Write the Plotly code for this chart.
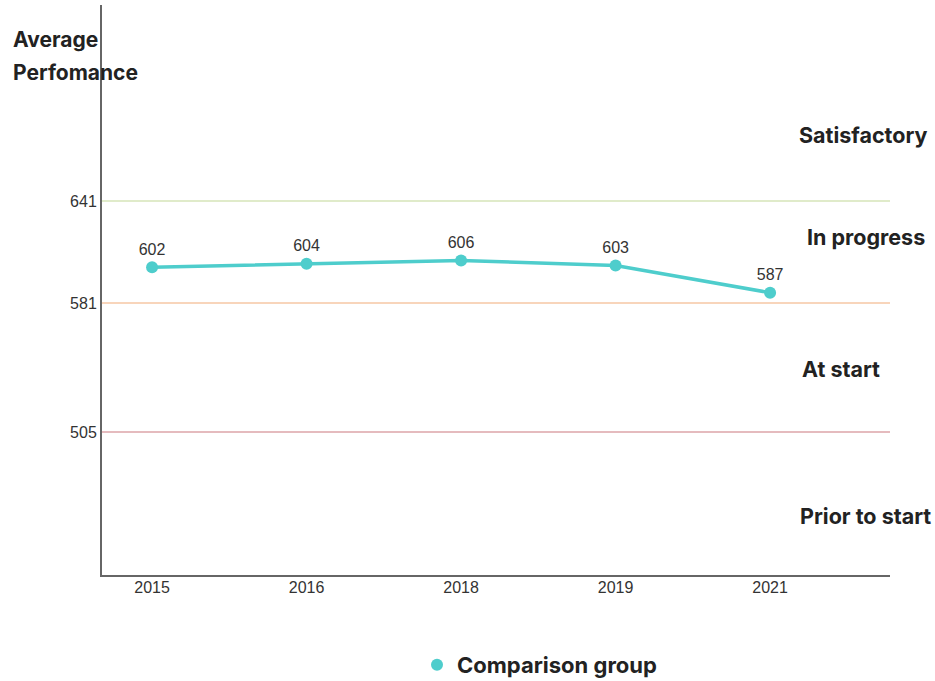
import plotly.graph_objects as go

years = ["2015", "2016", "2018", "2019", "2021"]
scores = [602, 604, 606, 603, 587]
series_name = "Comparison group"

thresholds = [641, 581, 505]
threshold_colors = ["#d6e4b8", "#f6c7a4", "#dca5a8"]
band_labels = ["Satisfactory", "In progress", "At start", "Prior to start"]
band_label_values = [680, 620, 542, 455.5]
band_label_xpos = [0.966, 0.969, 0.938, 0.969]

LINE_COLOR = "#4ecdcc"
AXIS_COLOR = "#666666"
TEXT_COLOR = "#222222"

fig = go.Figure()

for val, col in zip(thresholds, threshold_colors):
    fig.add_shape(type="line", xref="paper", x0=0, x1=1, yref="y", y0=val, y1=val,
                  line=dict(color=col, width=1.5), layer="below")

fig.add_trace(go.Scatter(
    x=years, y=scores, mode="lines+markers+text",
    text=[str(v) for v in scores], textposition="top center",
    textfont=dict(family="Liberation Sans, Arial", size=16, color="#333333"),
    line=dict(color=LINE_COLOR, width=3.5),
    marker=dict(color=LINE_COLOR, size=12),
    showlegend=False, cliponaxis=False,
))

fig.add_trace(go.Scatter(
    x=[None], y=[None], mode="markers", name=f"<b>{series_name}</b>",
    marker=dict(color=LINE_COLOR, size=15), showlegend=True,
))

for lab, val, xp in zip(band_labels, band_label_values, band_label_xpos):
    fig.add_annotation(x=xp, xref="paper", y=val, yref="y", text=f"<b>{lab}</b>",
                       showarrow=False, xanchor="center", yanchor="middle",
                       font=dict(family="Inter, Roboto, Arial", size=21.5, color=TEXT_COLOR))

# title lines, positioned in pixels converted to paper coordinates
plot_left, plot_w, plot_top, plot_h = 102, 788, 5, 570
for line_txt, ypix in zip(["Average", "Perfomance"], [40, 72]):
    fig.add_annotation(x=(11 - plot_left) / plot_w, xref="paper",
                       y=1 - (ypix - plot_top) / plot_h, yref="paper",
                       text=f"<b>{line_txt}</b>", showarrow=False,
                       xanchor="left", yanchor="middle", align="left",
                       font=dict(family="Inter, Roboto, Arial", size=21, color=TEXT_COLOR))

fig.update_layout(
    width=935, height=681,
    margin=dict(l=102, r=45, t=5, b=106, autoexpand=False),
    paper_bgcolor="white", plot_bgcolor="white",
    xaxis=dict(type="category", range=[-0.324, 4.776], showgrid=False, zeroline=False,
               showline=True, linecolor=AXIS_COLOR, linewidth=2, ticks="",
               ticklabelstandoff=-3,
               tickfont=dict(family="Liberation Sans, Arial", size=16, color="#333333")),
    yaxis=dict(range=[420.8, 756.4], tickvals=thresholds, ticktext=[str(t) for t in thresholds],
               showgrid=False, zeroline=False, showline=True, linecolor=AXIS_COLOR, linewidth=2,
               ticks="", tickfont=dict(family="Liberation Sans, Arial", size=16, color="#333333")),
    legend=dict(orientation="h", xref="container", yref="container",
                x=417 / 935, y=1 - 665 / 681, xanchor="left", yanchor="middle",
                font=dict(family="Inter, Roboto, Arial", size=22, color=TEXT_COLOR),
                itemsizing="constant"),
)

fig.write_html("out.html")
